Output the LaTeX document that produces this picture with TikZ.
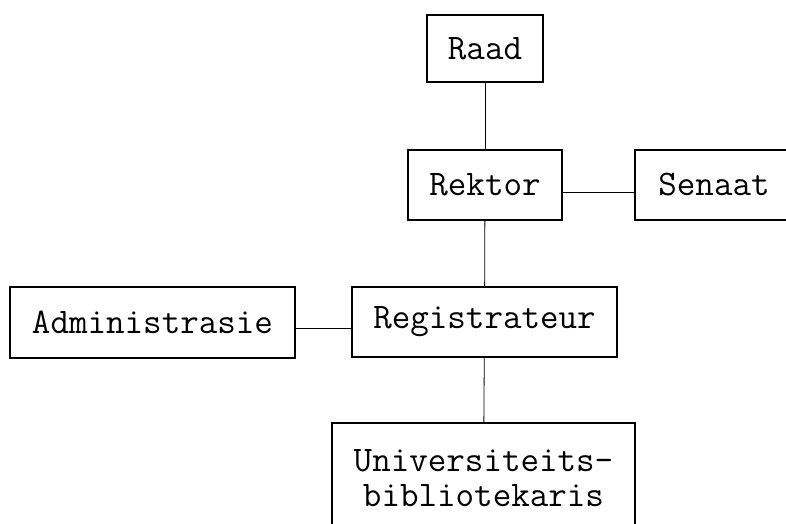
\documentclass[tikz,border=0pt]{standalone}
\usepackage{fontspec}
\usepackage{tikz}

\begin{document}
\begin{tikzpicture}[x=0.75pt, y=-0.75pt,
                    org node/.style={rectangle,draw,line width=1.3pt,inner sep=0pt,
                                     font=\ttfamily\fontsize{27}{26}\selectfont},
                    link/.style={line width=0.6pt}]
  \useasboundingbox (0,0) rectangle (786,524);

  \node[org node, minimum width=87pt, minimum height=50.25pt] (raad) at (485,48.5) {Raad};
  \node[org node, minimum width=115.5pt, minimum height=52.5pt] (rektor) at (485,185) {Rektor};
  \node[org node, minimum width=118.5pt, minimum height=52.5pt] (senaat) at (714,185) {Senaat};
  \node[org node, minimum width=213.75pt, minimum height=53.25pt] (admin) at (152.5,322.5) {Administrasie};
  \node[org node, minimum width=198.75pt, minimum height=52.5pt] (reg) at (484.5,322) {Registrateur};
  \node[org node, minimum width=227.25pt, minimum height=82.5pt, align=center] (bib) at (483.5,478)
    {Universiteits-\\bibliotekaris};

  \draw[link] (raad) -- (rektor);
  \draw[link] (rektor.east) ++(0,7) coordinate (re) -- (senaat.west |- re);
  \draw[link] (rektor) -- (reg);
  \draw[link] (admin.east) ++(0,6) coordinate (ae) -- (reg.west |- ae);
  \draw[link] (reg) -- (bib);
\end{tikzpicture}
\end{document}
